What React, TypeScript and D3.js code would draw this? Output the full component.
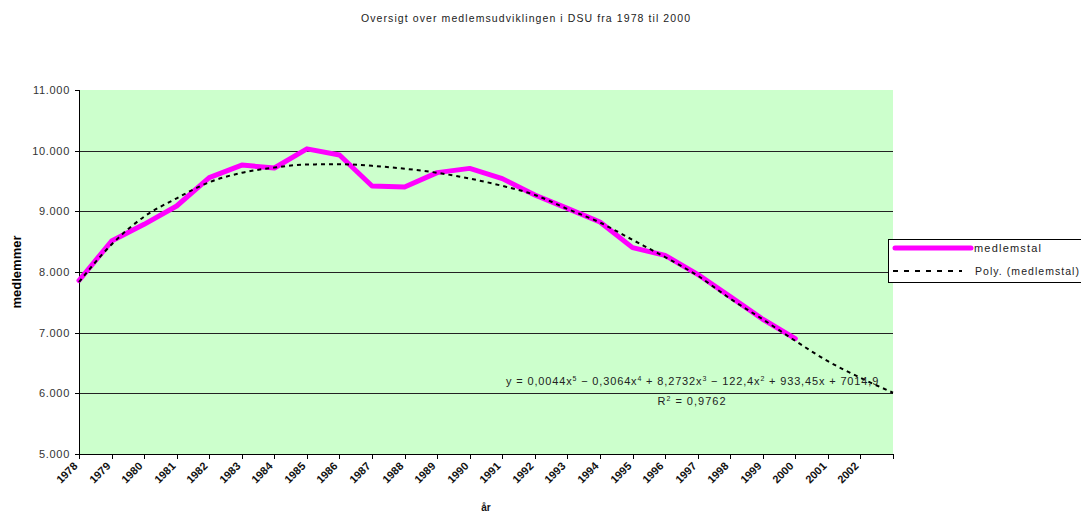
import React from 'react';
import * as d3 from 'd3';

const categories = ['1978','1979','1980','1981','1982','1983','1984','1985','1986','1987','1988','1989','1990','1991','1992','1993','1994','1995','1996','1997','1998','1999','2000','2001','2002','2003'];
const xTickLabels = ['1978','1979','1980','1981','1982','1983','1984','1985','1986','1987','1988','1989','1990','1991','1992','1993','1994','1995','1996','1997','1998','1999','2000','2001','2002',''];
const members = [7860, 8510, 8786, 9088, 9555, 9763, 9714, 10030, 9928, 9417, 9400, 9638, 9708, 9539, 9269, 9049, 8824, 8402, 8275, 7962, 7595, 7221, 6903];
const trend = [7835, 8454, 8912, 9215, 9480, 9635, 9722, 9772, 9776, 9750, 9703, 9635, 9540, 9420, 9270, 9040, 8815, 8530, 8245, 7940, 7560, 7220, 6865, 6530, 6255, 6010];
const yTicks = [5000, 6000, 7000, 8000, 9000, 10000, 11000];
const yTickLabels = ['5.000', '6.000', '7.000', '8.000', '9.000', '10.000', '11.000'];
const gridValues = [6000, 7000, 8000, 9000, 10000];
const title = 'Oversigt over medlemsudviklingen i DSU fra 1978 til 2000';
const yTitle = 'medlemmer';
const xTitle = 'år';
const seriesName = 'medlemstal';
const trendName = 'Poly. (medlemstal)';
const eqParts = [
  ['y = 0,0044x', '5'],
  [' − 0,3064x', '4'],
  [' + 8,2732x', '3'],
  [' − 122,4x', '2'],
  [' + 933,45x + 7014,9', ''],
];
const r2Parts = ['R', '2', ' = 0,9762'];

export default function App() {
  const W = 1081, H = 513;
  const left = 79, right = 893, top = 90, bottom = 454;
  const x = d3.scalePoint<string>().domain(categories).range([left, right]);
  const y = d3.scaleLinear().domain([5000, 11000]).range([bottom, top]);
  const memberLine = d3.line<number>()
    .x((_, i) => x(categories[i]) as number)
    .y((d) => y(d))
    .curve(d3.curveLinear);
  const trendLine = d3.line<number>()
    .x((_, i) => x(categories[i]) as number)
    .y((d) => y(d))
    .curve(d3.curveMonotoneX);
  const font = '"Liberation Sans", Arial, sans-serif';
  const magenta = '#FF00FF';

  return (
    <svg width={W} height={H} style={{ position: 'absolute', left: 0, top: 0, fontFamily: font, background: '#fff' }}>
      <text x={361} y={22} fontSize={10.5} fill="#222" textLength={329} lengthAdjust="spacing">{title}</text>

      <rect x={left} y={top} width={right - left} height={bottom - top} fill="#CCFFCC" />
      {gridValues.map((v) => (
        <line key={v} x1={left} x2={right} y1={Math.round(y(v)) + 0.5} y2={Math.round(y(v)) + 0.5} stroke="#222" strokeWidth={1} />
      ))}
      <line x1={left + 0.5} x2={left + 0.5} y1={top} y2={bottom} stroke="#000" />
      <line x1={left} x2={right + 0.5} y1={bottom + 0.5} y2={bottom + 0.5} stroke="#000" />
      {yTicks.map((v, i) => (
        <g key={v}>
          <line x1={left - 4} x2={left} y1={Math.round(y(v)) + 0.5} y2={Math.round(y(v)) + 0.5} stroke="#000" />
          <text x={70} y={y(v) + 4} fontSize={11} textAnchor="end" fill="#333" letterSpacing={0.7}>{yTickLabels[i]}</text>
        </g>
      ))}
      {categories.map((c, i) => {
        const px = Math.round(x(c) as number) + 0.5;
        return (
          <g key={c}>
            <line x1={px} x2={px} y1={bottom} y2={bottom + 5} stroke="#000" />
            {xTickLabels[i] && (
              <text transform={`translate(${px - 4},${bottom + 10}) rotate(-45)`} fontSize={11} fontWeight="bold" textAnchor="end" dy="0.35em" fill="#111">{xTickLabels[i]}</text>
            )}
          </g>
        );
      })}

      <text transform={`translate(21,272) rotate(-90)`} fontSize={13} fontWeight="bold" textAnchor="middle" fill="#000">{yTitle}</text>
      <text x={486} y={511} fontSize={10} fontWeight="bold" textAnchor="middle" fill="#111">{xTitle}</text>

      <path d={memberLine(members) || ''} fill="none" stroke={magenta} strokeWidth={5} strokeLinejoin="round" strokeLinecap="round" />
      <path d={trendLine(trend) || ''} fill="none" stroke="#000" strokeWidth={2} strokeDasharray="4,4" />

      <text x={506} y={385} fontSize={11} fill="#222" letterSpacing={0.85}>
        {eqParts.map((p, i) => (
          <React.Fragment key={i}>
            <tspan dy={i === 0 ? 0 : 4}>{p[0]}</tspan>
            {p[1] && <tspan dy={-4} fontSize={7}>{p[1]}</tspan>}
          </React.Fragment>
        ))}
      </text>
      <text x={692} y={405} fontSize={11} fill="#222" textAnchor="middle" letterSpacing={1.0}>
        <tspan>{r2Parts[0]}</tspan>
        <tspan dy={-4} fontSize={7}>{r2Parts[1]}</tspan>
        <tspan dy={4}>{r2Parts[2]}</tspan>
      </text>

      <rect x={888.5} y={239.5} width={200} height={43} fill="#fff" stroke="#000" />
      <line x1={895} x2={971} y1={248} y2={248} stroke={magenta} strokeWidth={5} strokeLinecap="round" />
      <text x={974} y={252} fontSize={11} fill="#222" textLength={67} lengthAdjust="spacing">{seriesName}</text>
      <line x1={893} x2={962} y1={271} y2={271} stroke="#000" strokeWidth={2} strokeDasharray="5,6" />
      <text x={975} y={275} fontSize={10.5} fill="#222" textLength={104} lengthAdjust="spacing">{trendName}</text>
    </svg>
  );
}
